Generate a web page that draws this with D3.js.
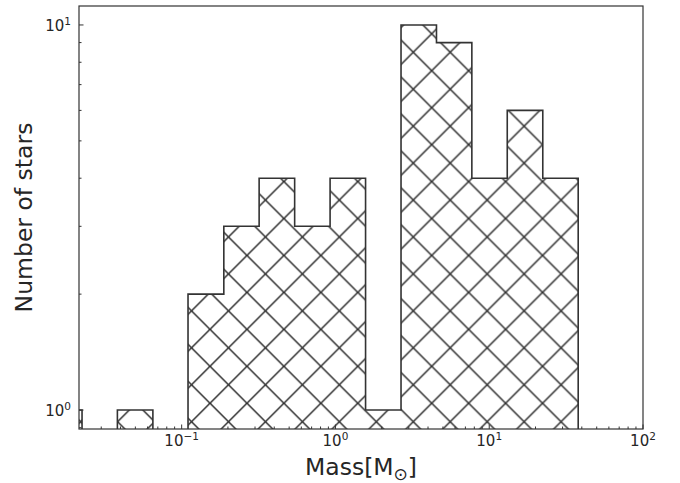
<!DOCTYPE html>
<html>
<head>
<meta charset="utf-8">
<script src="https://cdn.jsdelivr.net/npm/d3@7"></script>
<style>
  body { margin: 0; background: #fff; }
  text { font-family: "DejaVu Sans", sans-serif; fill: #262626; }
</style>
</head>
<body>
<div id="chart"></div>
<script>
// histogram bins (solar masses) and counts per bin
const binEdges = [0.0132, 0.0225, 0.0382, 0.065, 0.110, 0.188, 0.319, 0.543, 0.923, 1.57, 2.67, 4.54, 7.71, 13.1, 22.3, 37.9];
const counts = [1, 0, 1, 0, 2, 3, 4, 3, 4, 1, 10, 9, 4, 6, 4];
const xTickExps = [-1, 0, 1, 2];
const yTickExps = [0, 1];

const width = 680, height = 483;
const margin = { left: 79, right: 37, top: 6, bottom: 54 };
const x0 = margin.left, x1 = width - margin.right;
const y0 = margin.top, y1 = height - margin.bottom;

const x = d3.scaleLog().domain([0.0215, 100]).range([x0, x1]);
const y = d3.scaleLog().domain([0.893, 11.2]).range([y1, y0]);

const svg = d3.select('#chart').append('svg')
    .attr('width', width)
    .attr('height', height);

const defs = svg.append('defs');
defs.append('clipPath').attr('id', 'plot-clip')
    .append('rect')
    .attr('x', x0).attr('y', y0)
    .attr('width', x1 - x0).attr('height', y1 - y0);

// cross hatch, same tile for the whole outline
const d = 36.95;
const hatch = defs.append('pattern')
    .attr('id', 'hatch')
    .attr('patternUnits', 'userSpaceOnUse')
    .attr('x', 25.25).attr('y', -3.2)
    .attr('width', d).attr('height', d);
hatch.append('path')
    .attr('d', `M-2,-2L${d + 2},${d + 2}M-2,${d + 2}L${d + 2},-2` +
               `M${d - 3},-3L${d + 3},3M-3,${d - 3}L3,${d + 3}` +
               `M-3,3L3,-3M${d - 3},${d + 3}L${d + 3},${d - 3}`)
    .attr('stroke', '#2e2e2e')
    .attr('stroke-width', 1.5)
    .attr('fill', 'none');

// step outline of the histogram
const below = y1 + 20;
let pts = [[x(binEdges[0]), below]];
counts.forEach((c, i) => {
    const h = c > 0 ? y(c) : below;
    pts.push([x(binEdges[i]), h]);
    pts.push([x(binEdges[i + 1]), h]);
});
pts.push([x(binEdges[binEdges.length - 1]), below]);
const stepPath = d3.line()(pts);

const plot = svg.append('g').attr('clip-path', 'url(#plot-clip)');
plot.append('path').attr('d', stepPath + 'Z').attr('fill', '#fff');
plot.append('path').attr('d', stepPath + 'Z').attr('fill', 'url(#hatch)');
plot.append('path').attr('d', stepPath)
    .attr('fill', 'none')
    .attr('stroke', '#333')
    .attr('stroke-width', 1.6);

// frame
svg.append('rect')
    .attr('x', x0).attr('y', y0)
    .attr('width', x1 - x0).attr('height', y1 - y0)
    .attr('fill', 'none')
    .attr('stroke', '#333')
    .attr('stroke-width', 1.2);

// ticks pointing inward
const xMinor = [];
for (let e = -2; e <= 1; e++) {
    for (let m = 2; m <= 9; m++) {
        const v = m * Math.pow(10, e);
        if (v > x.domain()[0] && v < x.domain()[1]) xMinor.push(v);
    }
}
const yMinor = [];
for (let e = -1; e <= 1; e++) {
    for (let m = 2; m <= 9; m++) {
        const v = m * Math.pow(10, e);
        if (v > y.domain()[0] && v < y.domain()[1]) yMinor.push(v);
    }
}

const ticks = svg.append('g').attr('stroke', '#333').attr('stroke-width', 1);
xMinor.forEach(v => {
    ticks.append('line').attr('x1', x(v)).attr('x2', x(v)).attr('y1', y1).attr('y2', y1 - 2.5);
});
xTickExps.forEach(e => {
    const v = Math.pow(10, e);
    ticks.append('line').attr('x1', x(v)).attr('x2', x(v)).attr('y1', y1).attr('y2', y1 - 4.5);
});
yMinor.forEach(v => {
    ticks.append('line').attr('x1', x0).attr('x2', x0 + 2.5).attr('y1', y(v)).attr('y2', y(v));
});
yTickExps.forEach(e => {
    const v = Math.pow(10, e);
    ticks.append('line').attr('x1', x0).attr('x2', x0 + 4.5).attr('y1', y(v)).attr('y2', y(v));
});

// tick labels as 10^n
function powLabel(g, e) {
    g.append('tspan').text('10');
    g.append('tspan').attr('dy', -6).attr('font-size', '10.5px').text(e < 0 ? '\u2212' + (-e) : e);
}
xTickExps.forEach(e => {
    const t = svg.append('text')
        .attr('x', x(Math.pow(10, e)))
        .attr('y', 446)
        .attr('text-anchor', 'middle')
        .attr('font-size', '15px');
    powLabel(t, e);
});
yTickExps.forEach(e => {
    const t = svg.append('text')
        .attr('x', 71)
        .attr('y', y(Math.pow(10, e)) + 6)
        .attr('text-anchor', 'end')
        .attr('font-size', '15px');
    powLabel(t, e);
});

// axis labels
const xl = svg.append('text')
    .attr('x', (x0 + x1) / 2)
    .attr('y', 475)
    .attr('text-anchor', 'middle')
    .attr('font-size', '23.5px');
xl.append('tspan').text('Mass[M');
xl.append('tspan').attr('dy', 5).attr('font-size', '17px').text('\u2299');
xl.append('tspan').attr('dy', -5).text(']');

svg.append('text')
    .attr('transform', `translate(32, ${(y0 + y1) / 2}) rotate(-90)`)
    .attr('text-anchor', 'middle')
    .attr('font-size', '23.5px')
    .text('Number of stars');
</script>
</body>
</html>
